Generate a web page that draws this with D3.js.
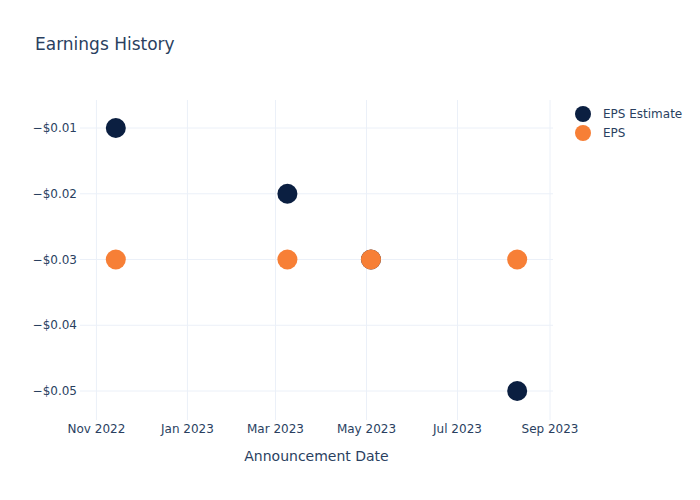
<!DOCTYPE html>
<html>
<head>
  <meta charset="UTF-8">
  <title>Earnings History</title>
  <script src="https://d3js.org/d3.v7.min.js"></script>
  <style>
    body { margin: 0; background: #fff; }
    text { font-family: "DejaVu Sans", Verdana, sans-serif; fill: #2a3f5f; }
  </style>
</head>
<body>
  <svg id="chart" width="700" height="500"></svg>
  <script>
    // announcement dates and values
    const dates = ["2022-11-14", "2023-03-09", "2023-05-04", "2023-08-10"];
    const epsEstimate = [-0.01, -0.02, -0.03, -0.05];
    const eps = [-0.03, -0.03, -0.03, -0.03];
    const yTicks = [-0.01, -0.02, -0.03, -0.04, -0.05];
    const xTicks = ["2022-11-01", "2023-01-01", "2023-03-01", "2023-05-01", "2023-07-01", "2023-09-01"];
    const seriesNames = ["EPS Estimate", "EPS"];
    const colors = ["#0b1f41", "#f77f36"];

    const svg = d3.select("#chart");
    const margin = { top: 100, left: 80, bottom: 80, right: 147 };
    const width = 700, height = 500;
    const parse = d3.timeParse("%Y-%m-%d");

    const x = d3.scaleTime()
      .domain([parse("2022-10-21"), parse("2023-09-03")])
      .range([margin.left, width - margin.right]);
    const y = d3.scaleLinear()
      .domain([-0.05441, -0.00574])
      .range([height - margin.bottom, margin.top]);

    const grid = svg.append("g").attr("stroke", "#ebf0f8").attr("stroke-width", 1);
    grid.selectAll("line.v").data(xTicks).join("line")
      .attr("x1", d => x(parse(d))).attr("x2", d => x(parse(d)))
      .attr("y1", margin.top).attr("y2", height - margin.bottom);
    grid.selectAll("line.h").data(yTicks).join("line")
      .attr("y1", d => y(d)).attr("y2", d => y(d))
      .attr("x1", margin.left).attr("x2", width - margin.right);

    const fmtDate = d3.timeFormat("%b %Y");
    svg.append("g").selectAll("text").data(xTicks).join("text")
      .attr("x", d => x(parse(d)))
      .attr("y", height - margin.bottom + 13)
      .attr("text-anchor", "middle")
      .attr("font-size", 12)
      .text(d => fmtDate(parse(d)));

    svg.append("g").selectAll("text").data(yTicks).join("text")
      .attr("x", margin.left - 3)
      .attr("y", d => y(d) + 4)
      .attr("text-anchor", "end")
      .attr("font-size", 12)
      .text(d => "\u2212$" + Math.abs(d).toFixed(2));

    const series = [epsEstimate, eps];
    series.forEach((vals, i) => {
      svg.append("g").selectAll("circle").data(vals).join("circle")
        .attr("cx", (d, j) => x(parse(dates[j])))
        .attr("cy", d => y(d))
        .attr("r", 10)
        .attr("fill", colors[i]);
    });

    svg.append("text")
      .attr("x", 35).attr("y", 50)
      .attr("font-size", 17)
      .text("Earnings History");

    svg.append("text")
      .attr("x", (margin.left + width - margin.right) / 2)
      .attr("y", 461)
      .attr("text-anchor", "middle")
      .attr("font-size", 14)
      .text("Announcement Date");

    const legend = svg.append("g");
    seriesNames.forEach((name, i) => {
      legend.append("circle")
        .attr("cx", 583).attr("cy", 114 + i * 19)
        .attr("r", 8).attr("fill", colors[i]);
      legend.append("text")
        .attr("x", 603).attr("y", 118 + i * 19)
        .attr("font-size", 12)
        .text(name);
    });
  </script>
</body>
</html>
